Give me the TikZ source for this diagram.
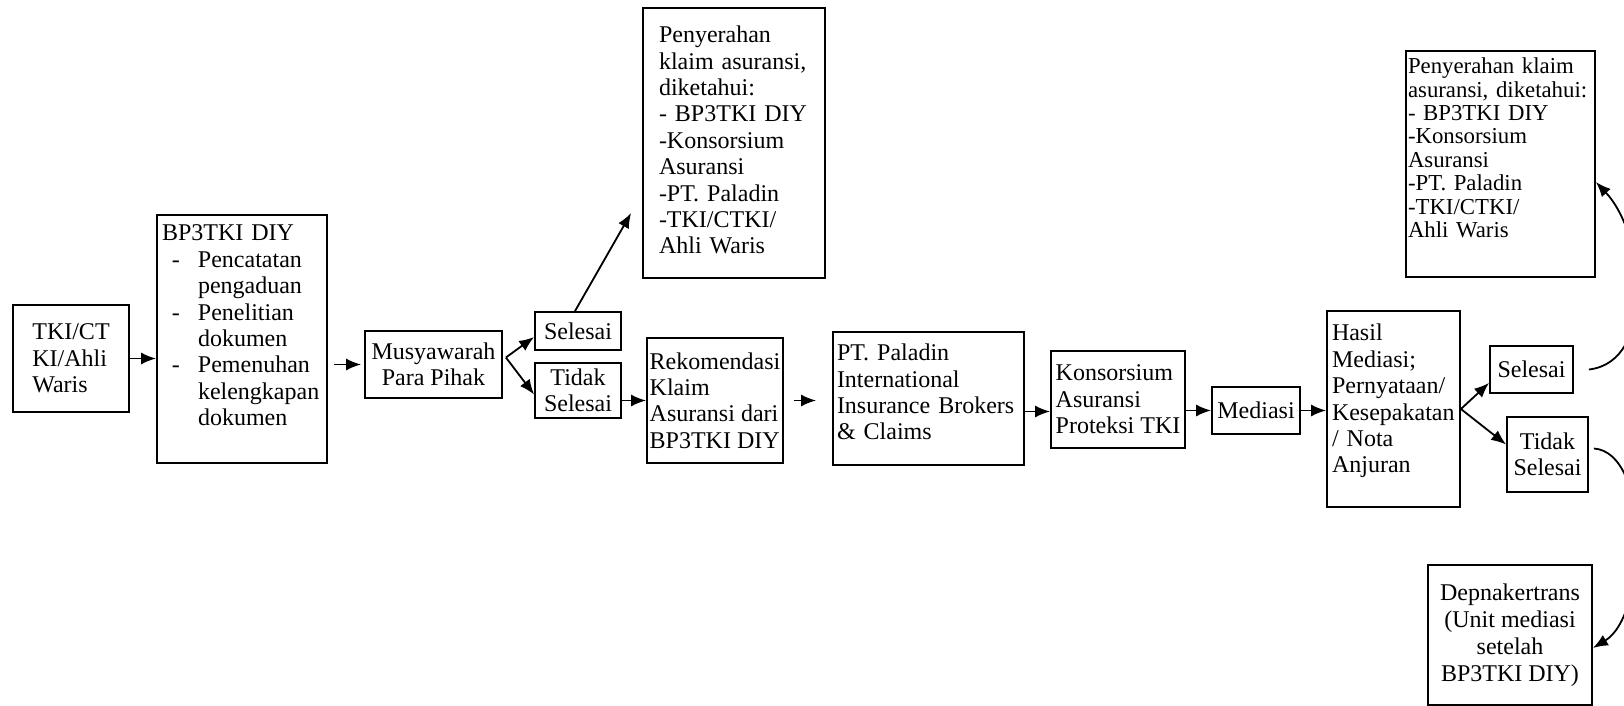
\documentclass[tikz,border=0pt]{standalone}
\usepackage{fontspec}
\setmainfont{Liberation Serif}
\usetikzlibrary{arrows.meta}
\newcommand{\itemdash}{\makebox[18pt][l]{\hspace{5pt}-}}
\newcommand{\itemgap}{\hspace*{18pt}}
\tikzset{
    box/.style={draw, line width=0.9pt, font=\fontsize{12}{13.2}\selectfont, inner xsep=1pt, inner ysep=1pt},
    topbox/.style={box, align=left, text height=9pt}
}

\begin{document}
\begin{tikzpicture}[->,>={Latex[length=7.5pt,width=6pt]},x=0.5pt,y=-0.5pt,line width=0.9pt]
            \useasboundingbox (0,0) rectangle (1624,706);
            \clip (0,0) rectangle (1624,706);

            \node[box, align=left, minimum width=58pt, minimum height=53.5pt] (tki) at (71,358.5) {TKI/CT\\KI/Ahli\\Waris};
            \node[topbox, text width=80pt, inner xsep=2.5pt, inner ysep=3.9pt, text depth=107.2pt] (bp3tki) [right of=tki, node distance=85.5pt, yshift=9.75pt]
                {BP3TKI DIY\\\itemdash Pencatatan\\\itemgap pengaduan\\\itemdash Penelitian\\\itemgap dokumen\\\itemdash Pemenuhan\\\itemgap kelengkapan\\\itemgap dokumen};
            \node[box, align=center, minimum width=68.5pt, minimum height=33.5pt] (musyawarah) [right of=bp3tki, node distance=95.75pt, yshift=-12.75pt] {Musyawarah\\Para Pihak};
            \node[box, minimum width=43pt, minimum height=19pt] (selesai) [right of=musyawarah, node distance=72.25pt, yshift=16.75pt] {Selesai};
            \node[box, align=center, minimum width=43pt, minimum height=27.5pt] (tidak) [below of=selesai, node distance=29.75pt] {Tidak\\Selesai};
            \node[topbox, text width=75pt, inner xsep=8pt, inner ysep=8.4pt, text depth=109.2pt] (penyerahan) [right of=selesai, node distance=78pt, yshift=94pt]
                {Penyerahan\\klaim asuransi,\\diketahui:\\- BP3TKI DIY\\-Konsorsium\\Asuransi\\-PT. Paladin\\-TKI/CTKI/\\Ahli Waris};
            \node[box, align=left, minimum width=68pt, minimum height=62.5pt] (rekomendasi) [right of=tidak, node distance=68.5pt, yshift=-5pt] {Rekomendasi\\Klaim\\Asuransi dari\\BP3TKI DIY};
            \node[topbox, text width=91.5pt, inner xsep=2pt, inner ysep=5.4pt, text depth=46.7pt] (paladin) [right of=rekomendasi, node distance=106.75pt, yshift=1pt]
                {PT. Paladin\\International\\Insurance Brokers\\\& Claims};
            \node[box, align=left, minimum width=67pt, minimum height=48.5pt] (konsorsium) [right of=paladin, node distance=94.75pt, yshift=-0.5pt] {Konsorsium\\Asuransi\\Proteksi TKI};
            \node[box, minimum width=44pt, minimum height=23.5pt] (mediasi) [right of=konsorsium, node distance=69pt, yshift=-5.5pt] {Mediasi};
            \node[topbox, text width=61.5pt, inner xsep=2.5pt, inner ysep=5.9pt, text depth=77.2pt] (hasil) [right of=mediasi, node distance=68.75pt, yshift=0.75pt]
                {Hasil\\Mediasi;\\Pernyataan/\\Kesepakatan\\/ Nota\\Anjuran};
            \node[box, minimum width=41.5pt, minimum height=23.5pt] (selesaiB) [right of=hasil, node distance=69pt, yshift=19.75pt] {Selesai};
            \node[box, align=center, minimum width=40.5pt, minimum height=37.5pt] (tidakB) [right of=hasil, node distance=77pt, yshift=-22.75pt] {Tidak\\Selesai};
            \node[topbox, font=\fontsize{11.4}{11.7}\selectfont, text width=92.5pt, inner xsep=1pt, inner ysep=2.4pt, text depth=99.2pt] (penyerahanB) [above of=selesaiB, node distance=102.75pt, xshift=-15.5pt]
                {Penyerahan klaim\\asuransi, diketahui:\\- BP3TKI DIY\\-Konsorsium\\Asuransi\\-PT. Paladin\\-TKI/CTKI/\\Ahli Waris};
            \node[box, align=center, font=\fontsize{12}{13.5}\selectfont, minimum width=82pt, minimum height=70pt] (depnaker) [below of=tidakB, node distance=90.25pt, xshift=-18.75pt]
                {Depnakertrans\\(Unit mediasi\\setelah\\BP3TKI DIY)};

            \path (tki.east) edge (tki.east -| bp3tki.west)
            ([xshift=3pt]bp3tki.east |- musyawarah.west) edge ([xshift=-1.5pt]musyawarah.west)
            ([xshift=1.5pt,yshift=3.5pt]musyawarah.east) edge ([yshift=-3pt]selesai.west)
            ([xshift=1.5pt,yshift=3.5pt]musyawarah.east) edge ([yshift=-2pt]tidak.west)
            ([xshift=-1.5pt]selesai.north) edge ([xshift=-5.5pt,yshift=-35pt]penyerahan.west)
            (tidak.east |- rekomendasi.west) edge (rekomendasi.west)
            ([xshift=5pt]rekomendasi.east) edge ([xshift=-8pt]rekomendasi.east -| paladin.west)
            ([yshift=-6.5pt]paladin.east) edge ([yshift=-6.5pt]paladin.east -| konsorsium.west)
            (konsorsium.east |- mediasi.west) edge (mediasi.west)
            (mediasi.east) edge (mediasi.east -| hasil.west)
            (hasil.east) edge ([yshift=5.5pt]selesaiB.south west)
            (hasil.east) edge ([yshift=5pt]tidakB.west);

            % curved returns leave the page on the right
            \draw ([xshift=7.5pt]selesaiB.east) .. controls +(33.5pt,3.75pt) and +(25pt,-26.5pt) .. ([yshift=-9pt]penyerahanB.east);
            \draw ([xshift=2.5pt,yshift=3pt]tidakB.east) .. controls +(28.5pt,-2pt) and +(27.5pt,16.5pt) .. ([yshift=-6.5pt]depnaker.east);
        \end{tikzpicture}
\end{document}
